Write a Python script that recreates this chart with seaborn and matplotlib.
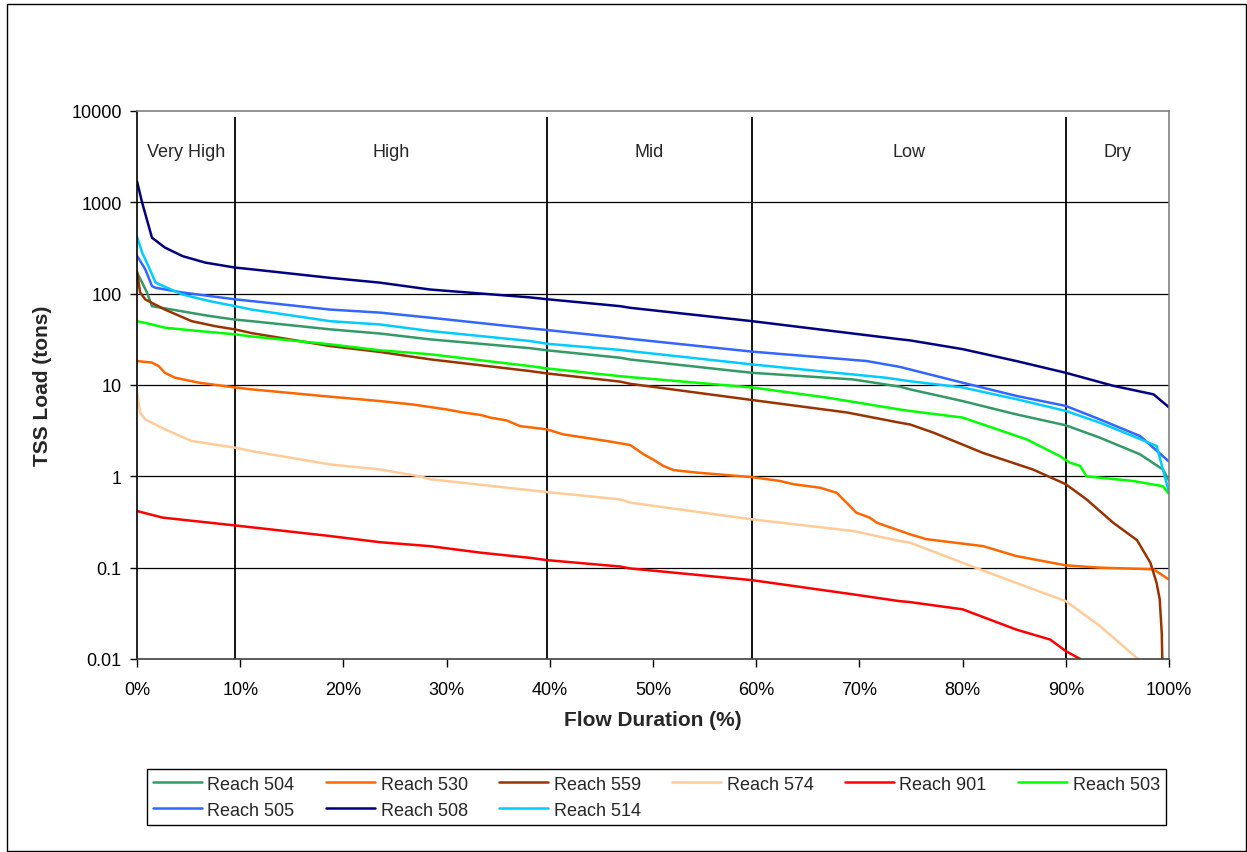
import numpy as np
import pandas as pd
import matplotlib
matplotlib.use("Agg")
import matplotlib.pyplot as plt
import matplotlib.ticker as mticker
from matplotlib.patches import Rectangle
import seaborn as sns

# flow duration (%) and TSS load (tons), one pair of lists per reach
pct_504 = [0, 0.5, 0.97, 1.45, 4.4, 7, 9.5, 11.1, 18.7, 23.55, 28.4, 38.1, 39.7, 46.8, 47.8,
           59.6, 69.4, 73.9, 74.9, 80, 85.2, 90, 93.3, 97.2, 99.4, 100]
load_504 = [170, 132, 103, 73, 64, 57, 52, 50, 40.7, 36.6, 31.6, 25.3, 24, 19.9, 19,
            13.6, 11.5, 9.6, 8.96, 6.67, 4.77, 3.62, 2.65, 1.74, 1.19, 0.9]

pct_530 = [0, 1.45, 2.1, 2.7, 3.7, 6, 9.5, 11.1, 18.7, 23.55, 26.8, 30.0, 31.6, 33.3, 34.2,
           35.8, 37.1, 39.7, 41.3, 45.5, 47.8, 49.1, 50.0, 51.0, 52.0, 54.2, 59.6, 62.3, 63.6,
           66.2, 67.8, 69.1, 69.7, 71.0, 71.7, 74.9, 76.5, 82.0, 85.2, 90.0, 93.3, 98.5, 100]
load_530 = [18.3, 17.6, 16.1, 13.6, 12.0, 10.6, 9.4, 8.96, 7.45, 6.67, 6.1, 5.4, 5.0, 4.7, 4.4,
            4.1, 3.55, 3.27, 2.88, 2.44, 2.2, 1.74, 1.53, 1.3, 1.17, 1.1, 0.98, 0.89, 0.82,
            0.75, 0.66, 0.47, 0.40, 0.353, 0.31, 0.232, 0.205, 0.172, 0.134, 0.106, 0.1, 0.096, 0.074]

pct_559 = [0, 0.3, 0.8, 2.7, 5.3, 7.6, 9.5, 11.1, 18.7, 23.55, 28.4, 38.1, 39.7, 46.8, 47.8,
           59.6, 68.8, 73.9, 74.9, 77.2, 82, 86.8, 90, 92, 94.6, 96.9, 98.2, 98.8, 99.1, 99.3, 99.4]
load_559 = [175, 103, 86.6, 67, 50, 44, 40.6, 37, 26.7, 23, 19.1, 14.2, 13.4, 10.9, 10.3,
            6.85, 5.0, 3.87, 3.7, 3.0, 1.8, 1.19, 0.82, 0.56, 0.31, 0.2, 0.113, 0.068, 0.045, 0.019, 0.005]

pct_574 = [0, 0.3, 0.8, 2.7, 5.3, 9.5, 11.1, 18.7, 23.55, 27.4, 28.4, 39.7, 46.8, 47.8, 59.6,
           69.4, 73.9, 74.9, 80, 85.2, 90, 93.3, 97, 97.6]
load_574 = [8.5, 4.98, 4.2, 3.27, 2.44, 2.06, 1.89, 1.35, 1.19, 1.0, 0.93, 0.673, 0.56, 0.515, 0.338,
            0.252, 0.196, 0.188, 0.113, 0.068, 0.043, 0.023, 0.01, 0.007]

pct_901 = [0, 2.5, 9.5, 18.7, 23.55, 28.4, 33.3, 38.1, 39.7, 46.8, 47.8, 59.6, 69.4, 73.9, 74.9,
           80, 85.2, 88.5, 90, 91.4, 92]
load_901 = [0.417, 0.353, 0.29, 0.222, 0.19, 0.172, 0.146, 0.128, 0.121, 0.103, 0.098, 0.073, 0.051,
            0.043, 0.042, 0.035, 0.021, 0.0163, 0.0122, 0.01, 0.008]

pct_503 = [0, 1.45, 2.7, 6, 9.5, 11.1, 18.7, 23.5, 28.4, 38.1, 39.7, 46.8, 47.8, 59.6, 66.8,
           73.9, 74.9, 80, 86.2, 89.4, 90.4, 91.4, 92.0, 96.5, 99.4, 100]
load_503 = [50, 46, 42.4, 39, 35.9, 34, 27.9, 24, 21.7, 16.1, 15.2, 12.5, 12.2, 9.4, 7.3,
            5.4, 5.2, 4.4, 2.54, 1.67, 1.41, 1.3, 1.0, 0.89, 0.78, 0.64]

pct_505 = [0, 0.8, 1.45, 1.8, 4.4, 9.5, 11.1, 18.7, 23.55, 28.4, 38.1, 39.7, 46.8, 47.8, 59.6,
           70.7, 73.9, 74.9, 80, 85.2, 90, 93.3, 97.2, 100]
load_505 = [260, 185, 121, 116, 103, 86.7, 83, 67, 62, 54.6, 41.7, 40, 33, 32, 23.2,
            18.3, 15.8, 14.8, 10.6, 7.6, 5.9, 4.2, 2.76, 1.45]

pct_508 = [0, 0.5, 1.45, 2.7, 4.4, 6.6, 9.5, 11.1, 18.7, 23.55, 28.4, 38.1, 39.7, 46.8, 47.8,
           59.6, 73.9, 74.9, 80, 85.2, 90, 94.6, 98.5, 100]
load_508 = [1700, 990, 410, 320, 258, 219, 193, 185, 149, 132, 111, 91, 87, 73, 70,
            50, 31.7, 30.8, 24.7, 18.3, 13.6, 9.8, 7.9, 5.7]

pct_514 = [0, 0.5, 1.1, 1.8, 4.4, 7, 9.5, 11.1, 18.7, 23.55, 28.4, 38.1, 39.7, 46.8, 47.8,
           59.6, 72.6, 74.9, 80, 85.2, 90, 93.3, 96.5, 98.8, 100]
load_514 = [420, 281, 201, 132, 98, 83, 73, 67, 50, 46, 39, 30.3, 28.3, 24.2, 23.5,
            16.8, 12.0, 11.0, 9.4, 7.0, 5.2, 3.87, 2.76, 2.15, 0.67]

reaches = ["Reach 504", "Reach 530", "Reach 559", "Reach 574", "Reach 901",
           "Reach 503", "Reach 505", "Reach 508", "Reach 514"]
colors = ["#339966", "#FF6600", "#993300", "#FFCC99", "#FF0000",
          "#00FF00", "#3366FF", "#000080", "#00CCFF"]
series = [(pct_504, load_504), (pct_530, load_530), (pct_559, load_559), (pct_574, load_574),
          (pct_901, load_901), (pct_503, load_503), (pct_505, load_505), (pct_508, load_508),
          (pct_514, load_514)]

zone_edges = [0, 9.5, 39.7, 59.6, 90, 100]
zone_names = ["Very High", "High", "Mid", "Low", "Dry"]

sns.set_style("white")
plt.rcParams['font.family'] = ['Liberation Sans', 'DejaVu Sans']

fig = plt.figure(figsize=(12.47, 8.53), dpi=100)
ax = fig.add_axes([137 / 1247, 1 - 660 / 853, 1032 / 1247, 548 / 853])

for name, col, (x, y) in zip(reaches, colors, series):
    sns.lineplot(x=x, y=y, ax=ax, color=col, lw=1.8, label=name, sort=False, estimator=None)

ax.set_yscale('log')
ax.set_ylim(0.01, 10000)
ax.set_xlim(0, 100)

yt = [0.01, 0.1, 1, 10, 100, 1000, 10000]
ax.yaxis.set_major_locator(mticker.FixedLocator(yt))
ax.yaxis.set_minor_locator(mticker.NullLocator())
ax.set_yticklabels(["0.01", "0.1", "1", "10", "100", "1000", "10000"])
ax.set_xticks(range(0, 101, 10))
ax.set_xticklabels([f"{v}%" for v in range(0, 101, 10)])
ax.tick_params(axis='y', direction='out', length=5, width=1, pad=6, labelsize=13, left=True, colors='black')
ax.tick_params(axis='x', direction='out', length=6, width=1, pad=10, labelsize=13, bottom=True, colors='black')

for v in yt[1:-1]:
    ax.axhline(v, color='black', lw=0.9, zorder=1)

for s in ['top', 'right']:
    ax.spines[s].set_color('#808080')
ax.spines['left'].set_color('black')
ax.spines['bottom'].set_color('#404040')
for s in ax.spines.values():
    s.set_linewidth(1.2)

# flow zone dividers and labels
ax.vlines(zone_edges[1:-1], 0.01, 8700, color='black', lw=1.3, zorder=1.5)
for i, nm in enumerate(zone_names):
    ax.text((zone_edges[i] + zone_edges[i + 1]) / 2, 3600, nm, ha='center', va='center', fontsize=13)

ax.set_ylabel("TSS Load (tons)", fontsize=15, fontweight='bold')
ax.set_xlabel("Flow Duration (%)", fontsize=15, fontweight='bold')
ax.yaxis.set_label_coords(-0.082, 0.5)
ax.xaxis.set_label_coords(0.5, -0.093)

# legend filled row by row like the original (matplotlib fills columns first)
handles, labels = ax.get_legend_handles_labels()
ax.get_legend().remove()
order = [0, 6, 1, 7, 2, 8, 3, 4, 5]
leg = fig.legend([handles[i] for i in order], [labels[i] for i in order], ncol=6, mode='expand',
                 fontsize=13, bbox_to_anchor=(147 / 1247, 1 - 826 / 853, 1019 / 1247, 58 / 853),
                 loc='lower left', frameon=True, fancybox=False, framealpha=1,
                 edgecolor='black', handlelength=2.7, handletextpad=0.3,
                 labelspacing=0.5, borderpad=0.35, borderaxespad=0)
leg.get_frame().set_linewidth(1.0)

fig.add_artist(Rectangle((7 / 1247, 1 / 853), 1239 / 1247, 847 / 853, transform=fig.transFigure,
                         fill=False, edgecolor='black', lw=1.0))

fig.savefig("out.png", dpi=100)
